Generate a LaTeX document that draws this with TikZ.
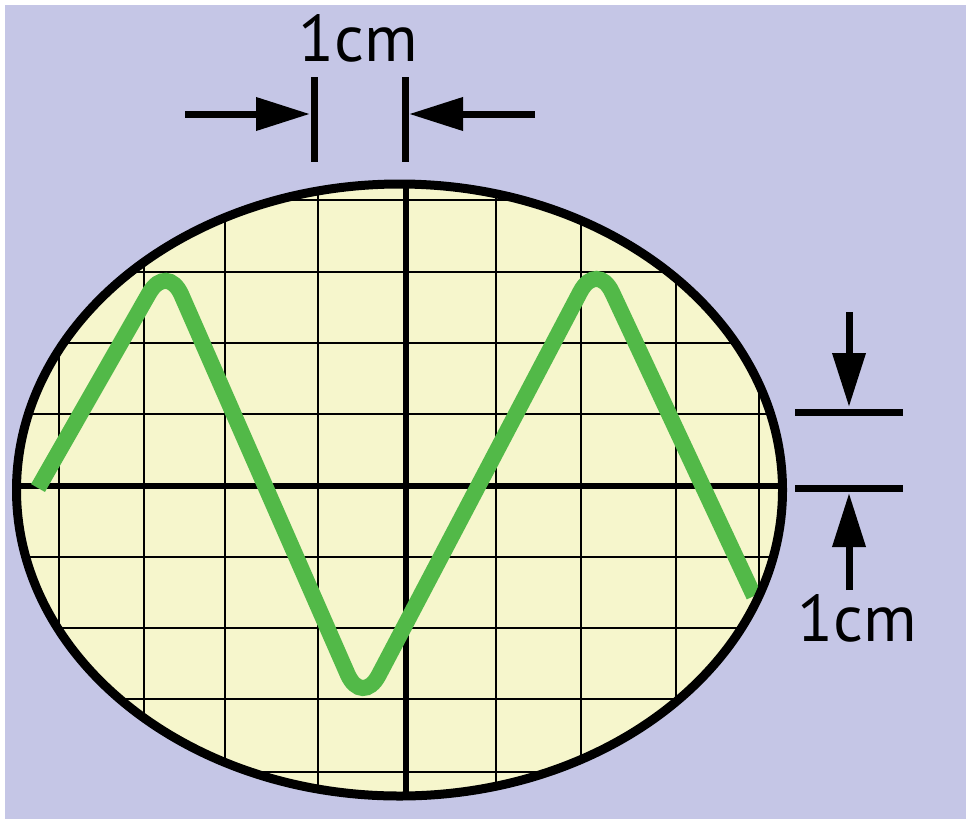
\documentclass[tikz,border=0pt]{standalone}
\usepackage{fontspec}
\setmainfont{PT Sans}
\usepackage{tikz}
\usetikzlibrary{arrows.meta}
\definecolor{scopebg}{RGB}{197,198,230}
\definecolor{screenyellow}{RGB}{246,246,204}
\definecolor{tracegreen}{RGB}{82,185,72}

\begin{document}
\begin{tikzpicture}[x=0.5pt,y=-0.5pt,thin grid/.style={line width=1.4pt},axisline/.style={line width=3.2pt},trace/.style={tracegreen,line width=8pt,rounded corners=18pt},bar/.style={line width=3.5pt},dimarrow/.style={line width=3.5pt,-{Triangle[length=27pt,width=16pt]}},dimlabel/.style={font=\fontsize{33}{36}\selectfont,inner sep=0pt}]
\useasboundingbox (0,0) rectangle (967,819);
\fill[white] (0,0) rectangle (967,819);
\fill[scopebg] (5,5) rectangle (966,819);
% screen with graticule
\fill[screenyellow] (399.5,490) ellipse [x radius=383, y radius=306];
\begin{scope}
\clip (399.5,490) ellipse [x radius=383, y radius=306];
\foreach \gx in {59,144,225,318,496,581,676,759}
  \draw[thin grid] (\gx,150) -- (\gx,830);
\foreach \gy in {200,272,343,414,557,628,699,772}
  \draw[thin grid] (0,\gy) -- (800,\gy);
\draw[axisline] (406,150) -- (406,830);
\draw[axisline] (0,486) -- (800,486);
\end{scope}
% trace
\draw[trace] (38,488) -- (167,262) -- (362,707) -- (597,260) -- (754,596);
\draw[line width=4.5pt] (399.5,490) ellipse [x radius=383, y radius=306];
% horizontal 1cm marker
\coordinate (la) at (185,114);
\coordinate (lb) at (310,114);
\coordinate (ra) at (535,114);
\coordinate (rb) at (409,114);
\draw[bar] (314,77) -- (314,162);
\draw[bar] (405,77) -- (405,162);
\draw[dimarrow] (la) -- (lb);
\draw[dimarrow] (ra) -- (rb);
\node[dimlabel] (hl) at (358,38) {1cm};
% vertical 1cm marker
\coordinate (ua) at (849,312);
\coordinate (ub) at (849,407);
\coordinate (da) at (849,590);
\coordinate (db) at (849,493);
\draw[bar] (795,412) -- (903,412);
\draw[bar] (795,488) -- (903,488);
\draw[dimarrow] (ua) -- (ub);
\draw[dimarrow] (da) -- (db);
\node[dimlabel] (vl) at (857,618) {1cm};
\end{tikzpicture}
\end{document}
